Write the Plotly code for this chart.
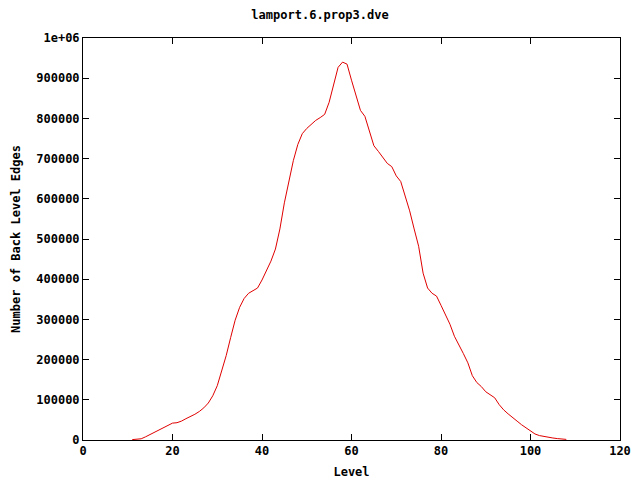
import plotly.graph_objects as go

# Level -> number of back level edges
levels = list(range(11, 109))
edges = [
    1000, 2000, 3000, 8000, 14000, 20000, 26000, 31000, 37000, 42000,
    43000, 47000, 53000, 58000, 64000, 71000, 80000, 92000, 110000, 135000,
    170000, 210000, 255000, 298000, 330000, 352000, 365000, 372000, 378000, 398000,
    420000, 445000, 475000, 525000, 590000, 647000, 695000, 735000, 762000, 775000,
    785000, 795000, 802000, 810000, 840000, 885000, 927000, 940000, 935000, 895000,
    855000, 820000, 805000, 770000, 732000, 718000, 702000, 688000, 680000, 657000,
    643000, 605000, 570000, 525000, 482000, 415000, 378000, 365000, 358000, 335000,
    312000, 288000, 258000, 238000, 215000, 192000, 160000, 143000, 133000, 120000,
    112000, 105000, 88000, 75000, 65000, 57000, 47000, 38000, 30000, 22000,
    15000, 11000, 8500, 6500, 5000, 3500, 2500, 1500,
]

x_ticks = [0, 20, 40, 60, 80, 100, 120]
y_ticks = [0, 100000, 200000, 300000, 400000, 500000, 600000, 700000, 800000, 900000, 1000000]
y_labels = ["0", "100000", "200000", "300000", "400000", "500000",
            "600000", "700000", "800000", "900000", "1e+06"]

font = dict(family="DejaVu Sans Mono", size=12, color="black", weight="bold")

fig = go.Figure()
fig.add_trace(go.Scatter(x=levels, y=edges, mode="lines",
                         line=dict(color="#e00000", width=1), showlegend=False))

axis = dict(showline=True, linecolor="black", linewidth=1, mirror="allticks",
            ticks="inside", ticklen=6, tickcolor="black", showgrid=False,
            zeroline=False, tickfont=font, automargin=False)

fig.update_layout(
    width=640, height=480,
    paper_bgcolor="white", plot_bgcolor="white",
    margin=dict(l=83, r=20, t=38, b=40),
    title=dict(text="lamport.6.prop3.dve", x=0.5, xanchor="center",
               y=1 - 15 / 480, yanchor="middle", font=font),
    font=font,
)
fig.update_xaxes(range=[0, 120], tickvals=x_ticks,
                 title=dict(text="Level", font=font, standoff=10), **axis)
fig.update_yaxes(range=[0, 1000000], tickvals=y_ticks, ticktext=y_labels,
                 title=dict(text="Number of Back Level Edges", font=font, standoff=13),
                 **axis)

# the page's default body margin would shift the figure by 8px
fig.write_html("out.html", config={"displayModeBar": False},
               post_script="document.body.style.margin='0';")
